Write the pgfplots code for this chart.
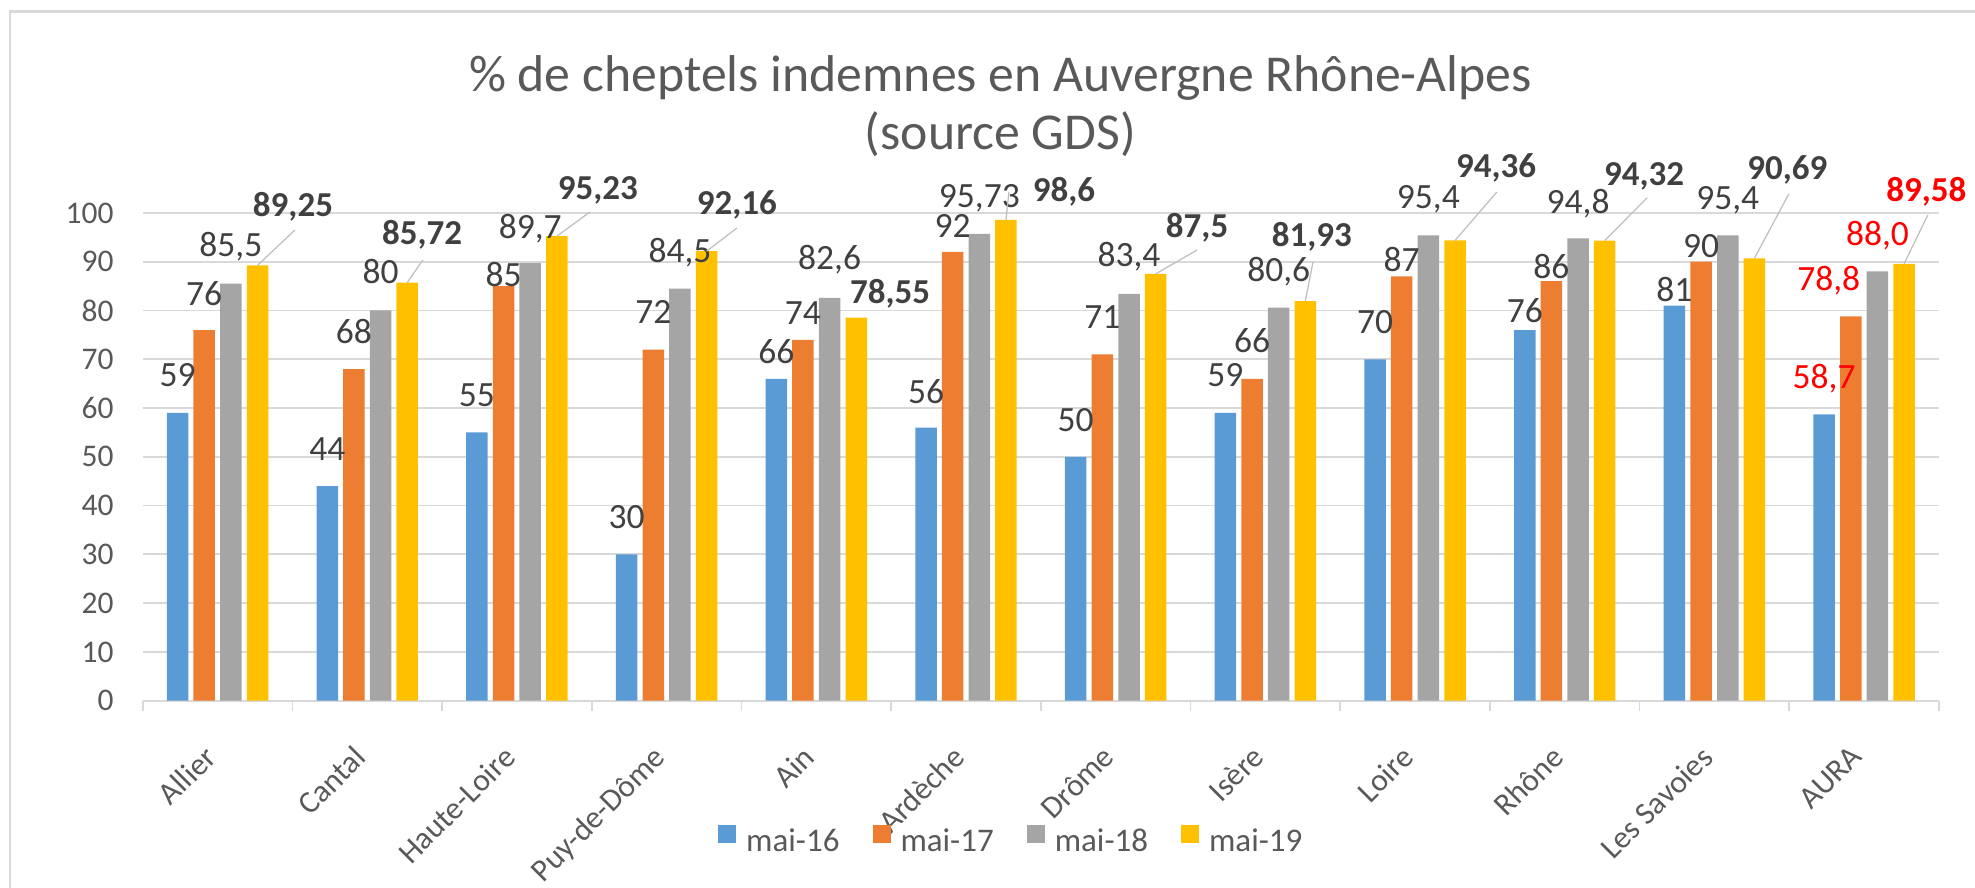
\documentclass[border=0pt]{standalone}
\usepackage{fontspec}
\setmainfont{Carlito}
\usepackage{pgfplots}
\usepackage{pgfplotstable}
\pgfplotsset{compat=1.18}
\definecolor{cBlue}{HTML}{5B9BD5}
\definecolor{cOrange}{HTML}{ED7D31}
\definecolor{cGray}{HTML}{A5A5A5}
\definecolor{cYellow}{HTML}{FFC000}
\definecolor{gridgray}{HTML}{D9D9D9}
\definecolor{txtgray}{HTML}{595959}
\definecolor{labgray}{HTML}{404040}
\definecolor{leadgray}{HTML}{BFBFBF}
\definecolor{cRed}{HTML}{FF0000}

\pgfplotstableread{
x  a     b     c      d
0  59    76    85.5   89.25
1  44    68    80     85.72
2  55    85    89.7   95.23
3  30    72    84.5   92.16
4  66    74    82.6   78.55
5  56    92    95.73  98.6
6  50    71    83.4   87.5
7  59    66    80.6   81.93
8  70    87    95.4   94.36
9  76    86    94.8   94.32
10 81    90    95.4   90.69
11 58.7  78.8  88.0   89.58
}\data

\tikzset{
  lab/.style={anchor=base, inner sep=0pt, text=labgray, font=\fontsize{14.2}{14.2}\selectfont},
  blab/.style={anchor=base, inner sep=0pt, text=labgray, font=\fontsize{14}{14}\selectfont\bfseries},
}
% \lab{x}{value}{text}{gap in px}
\newcommand{\lab}[4]{\node[lab, yshift=#4*0.4pt] at (axis cs:#1,#2) {#3};}
\newcommand{\rlab}[4]{\node[lab, text=cRed, yshift=#4*0.4pt] at (axis cs:#1,#2) {#3};}

\begin{document}
\begin{tikzpicture}
\useasboundingbox (-57.08pt,-74.92pt) rectangle (732.92pt,280.28pt);
\draw[gridgray, line width=1pt] (-53.08pt,-90pt) -- (-53.08pt,275.6pt) -- (750pt,275.6pt);
\begin{axis}[
  at={(0pt,0pt)}, anchor=south west,
  scale only axis, width=718.5pt, height=195.1pt,
  xmin=-0.5, xmax=11.5, ymin=0, ymax=100,
  enlargelimits=false, clip=false,
  ybar=2.06pt, bar width=8.6pt,
  axis line style={draw=none},
  tick pos=left,
  tick style={draw=none},
  ytick={0,10,...,100},
  ymajorgrids, grid style={draw=gridgray, line width=0.7pt},
  yticklabel style={font=\fontsize{12.6}{12.6}\selectfont, text=txtgray, xshift=-8.1pt},
  /pgf/number format/assume math mode=true,
  xtick={0,...,11},
  xticklabels={Allier,Cantal,Haute-Loire,Puy-de-Dôme,Ain,Ardèche,Drôme,Isère,Loire,Rhône,Les Savoies,AURA},
  xticklabel style={xshift=-6pt, yshift=-12.8pt, rotate=45, anchor=north east, inner sep=0pt, font=\fontsize{12.6}{12.6}\selectfont, text=txtgray},
  extra x ticks={-0.5,0.5,...,11.5},
  extra x tick labels={},
  extra x tick style={tick style={draw=gridgray, line width=0.7pt}, major tick length=4pt, tick align=outside},
  legend columns=4,
  legend style={draw=none, fill=none, inner sep=0pt, outer sep=0pt,
    at={(0,0)}, anchor=west, xshift=230.2pt, yshift=-55.6pt,
    nodes={inner sep=0pt, font=\fontsize{13.2}{13.2}\selectfont, text=txtgray},
    /tikz/every odd column/.append style={column sep=4pt},
    /tikz/every even column/.append style={column sep=13.2pt}},
  legend image code/.code={\fill[#1] (0pt,-0.4pt) rectangle (7.2pt,6.8pt);},
]
\addplot[fill=cBlue, draw=none] table[x=x, y=a]{\data};
\addplot[fill=cOrange, draw=none] table[x=x, y=b]{\data};
\addplot[fill=cGray, draw=none] table[x=x, y=c]{\data};
\addplot[fill=cYellow, draw=none] table[x=x, y=d]{\data};
\legend{mai-16,mai-17,mai-18,mai-19}

% regular data labels
\lab{-0.267}{59}{59}{26}   \lab{-0.089}{76}{76}{25}   \lab{0.089}{85.5}{85,5}{27}
\lab{0.733}{44}{44}{26}    \lab{0.911}{68}{68}{26}    \lab{1.089}{80}{80}{27}
\lab{1.733}{55}{55}{26}    \lab{1.911}{85}{85}{0}     \lab{2.089}{89.7}{89,7}{25}
\lab{2.733}{30}{30}{26}    \lab{2.911}{72}{72}{26}    \lab{3.089}{84.5}{84,5}{26}
\lab{3.733}{66}{66}{15}    \lab{3.911}{74}{74}{15}    \lab{4.089}{82.6}{82,6}{28}
\lab{4.733}{56}{56}{24}    \lab{4.911}{92}{92}{14}    \lab{5.089}{95.73}{95,73}{26}
\lab{5.733}{50}{50}{25}    \lab{5.911}{71}{71}{26}    \lab{6.089}{83.4}{83,4}{27}
\lab{6.733}{59}{59}{26}    \lab{6.911}{66}{66}{26}    \lab{7.089}{80.6}{80,6}{26}
\lab{7.733}{70}{70}{26}    \lab{7.911}{87}{87}{5}     \lab{8.089}{95.4}{95,4}{27}
\lab{8.733}{76}{76}{8}     \lab{8.911}{86}{86}{3}     \lab{9.089}{94.8}{94,8}{25}
\lab{9.733}{81}{81}{4}     \lab{9.911}{90}{90}{4}     \lab{10.089}{95.4}{95,4}{26}
\rlab{10.733}{58.7}{58,7}{26} \rlab{10.764}{78.8}{78,8}{26} \rlab{11.089}{88.0}{88,0}{26}

% leader lines for mai-19 labels
\draw[leadgray, line width=0.5pt] (axis cs:0.267,89.25) -- (axis cs:0.517,96.5);
\draw[leadgray, line width=0.5pt] (axis cs:1.267,85.72) -- (axis cs:1.372,90.37);
\draw[leadgray, line width=0.5pt] (axis cs:2.267,95.23) -- (axis cs:2.488,100.2);
\draw[leadgray, line width=0.5pt] (axis cs:3.267,92.16) -- (axis cs:3.47,96.92);
\draw[leadgray, line width=0.5pt] (axis cs:5.267,98.6) -- (axis cs:5.287,104.3);
\draw[leadgray, line width=0.5pt] (axis cs:6.267,87.5) -- (axis cs:6.544,92.4);
\draw[leadgray, line width=0.5pt] (axis cs:7.267,81.93) -- (axis cs:7.318,89.94);
\draw[leadgray, line width=0.5pt] (axis cs:8.267,94.36) -- (axis cs:8.547,104.3);
\draw[leadgray, line width=0.5pt] (axis cs:9.267,94.32) -- (axis cs:9.55,103.1);
\draw[leadgray, line width=0.5pt] (axis cs:10.267,90.69) -- (axis cs:10.497,103.9);
\draw[leadgray, line width=0.5pt] (axis cs:11.267,89.58) -- (axis cs:11.426,99.6);

% bold mai-19 labels
\node[blab] at (axis cs:0.504,99.18) {89,25};
\node[blab] at (axis cs:1.366,93.44) {85,72};
\node[blab] at (axis cs:2.541,102.67) {95,23};
\node[blab] at (axis cs:3.47,99.59) {92,16};
\node[blab] at (axis cs:4.493,81.53) {78,55};
\node[blab] at (axis cs:5.655,102.26) {98,6};
\node[blab] at (axis cs:6.544,94.87) {87,5};
\node[blab] at (axis cs:7.311,93.03) {81,93};
\node[blab] at (axis cs:8.541,107.34) {94,36};
\node[blab] at (axis cs:9.53,105.6) {94,32};
\node[blab] at (axis cs:10.487,106.77) {90,69};
\node[blab, text=cRed] at (axis cs:11.416,102.3) {89,58};
\end{axis}
\node[anchor=base, text=txtgray, font=\fontsize{20.7}{20.7}\selectfont] at (343.1pt,243.6pt) {\% de cheptels indemnes en Auvergne Rhône-Alpes};
\node[anchor=base, text=txtgray, font=\fontsize{20.7}{20.7}\selectfont] at (343.1pt,220.3pt) {(source GDS)};
\end{tikzpicture}
\end{document}
